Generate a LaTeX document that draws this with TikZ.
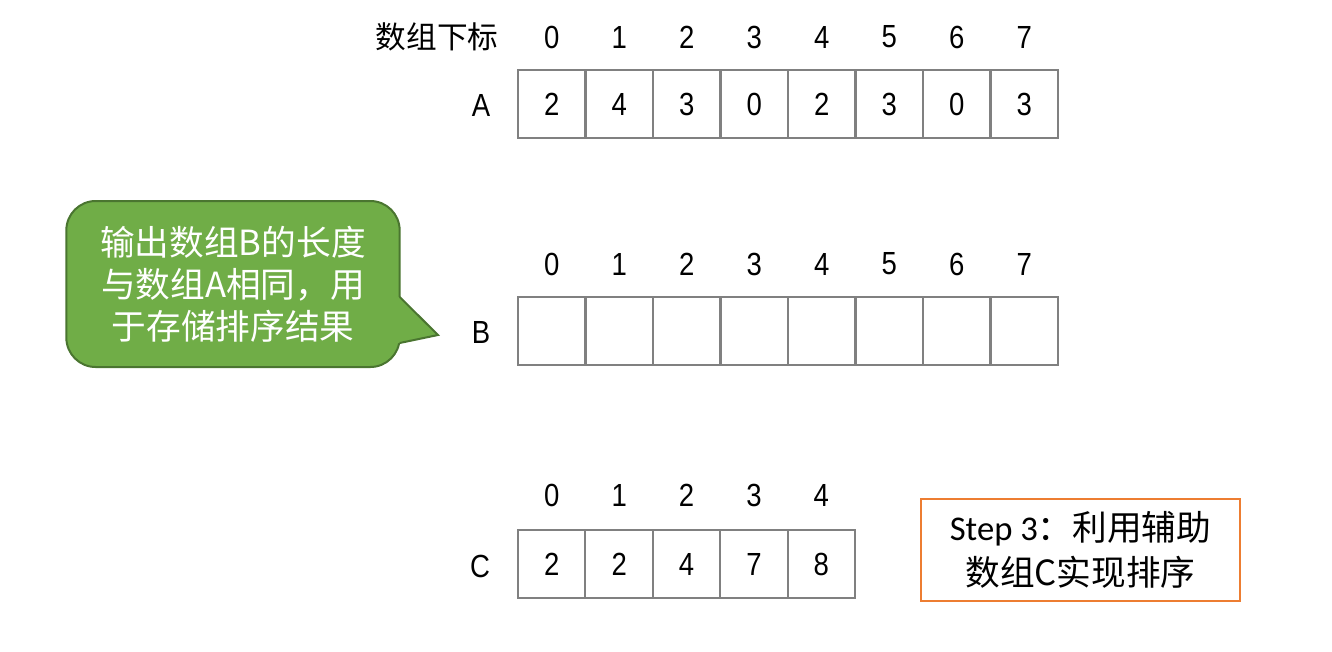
\documentclass[tikz,border=0pt]{standalone}
\usepackage{fontspec}
\setmainfont{Liberation Sans}
\newfontfamily\narrowsans[FakeStretch=0.86]{Liberation Sans}
\newfontfamily\cjk{Noto Sans CJK SC}
\newfontfamily\calib{Carlito}

\definecolor{cellgray}{HTML}{808080}
\definecolor{tipgreen}{HTML}{70AD47}
\definecolor{tipedge}{HTML}{4A7530}
\definecolor{steporange}{HTML}{ED7D31}

\tikzset{
  cell/.style={draw=cellgray, line width=1.5pt, minimum width=50.6pt,
    minimum height=51pt, inner sep=0pt, font=\fontsize{24}{26}\selectfont\narrowsans},
  idx/.style={inner sep=0pt, font=\fontsize{24}{26}\selectfont\narrowsans},
  arrname/.style={inner sep=0pt, font=\fontsize{24}{26}\selectfont\narrowsans}
}

\begin{document}
\begin{tikzpicture}[x=0.75pt,y=-0.75pt]
  \useasboundingbox (0,0) rectangle (1332,651);

  % array A with its index row
  \node[inner sep=0pt, font=\fontsize{23}{25}\selectfont\cjk] (hdr) at (437,37) {数组下标};
  \foreach \v [count=\i from 0] in {2,4,3,0,2,3,0,3} {
    \node[idx] (ia\i) at (551.75+67.5*\i,37) {\i};
    \node[cell] (a\i) at (551.75+67.5*\i,104) {\v};
  }
  \node[arrname] (la) at (481,105) {A};

  % array B, empty
  \foreach \i in {0,...,7} {
    \node[idx] (ib\i) at (551.75+67.5*\i,264) {\i};
    \node[cell] (b\i) at (551.75+67.5*\i,331) {};
  }
  \node[arrname] (lb) at (481,332) {B};

  % array C
  \foreach \v [count=\i from 0] in {2,2,4,7,8} {
    \node[idx] (ic\i) at (551.75+67.4*\i,495) {\i};
    \node[cell] (c\i) at (551.75+67.4*\i,564) {\v};
  }
  \node[arrname] (lc) at (480,566) {C};

  % green callout: rounded box plus a sharp pointer
  \node[rounded corners=22pt, fill=tipgreen, draw=tipedge, line width=1.5pt,
    minimum width=250pt, minimum height=124.5pt, inner sep=0pt,
    text=white, align=center,
    font=\fontsize{26}{31.5}\selectfont\cjk] (tip) at (233,284)
    {输出数组B的长度\\与数组A相同，用\\于存储排序结果};
  \coordinate (ptop) at (399.7,297);
  \coordinate (pbot) at (399.7,343);
  \coordinate (tipend) at (438,335);
  \fill[tipgreen] ([xshift=-3pt]ptop) -- (ptop) -- (tipend) -- (pbot) -- ([xshift=-3pt]pbot) -- cycle;
  \draw[tipedge, line width=1.5pt, line join=miter] (ptop) -- (tipend) -- (pbot);

  % step box
  \node[draw=steporange, line width=1.5pt, minimum width=239pt,
    minimum height=76.5pt, inner sep=0pt, align=center,
    font=\fontsize{26}{34}\selectfont\cjk] (step) at (1080.5,550)
    {{\calib Step 3}：利用辅助\\数组C实现排序};
\end{tikzpicture}
\end{document}
